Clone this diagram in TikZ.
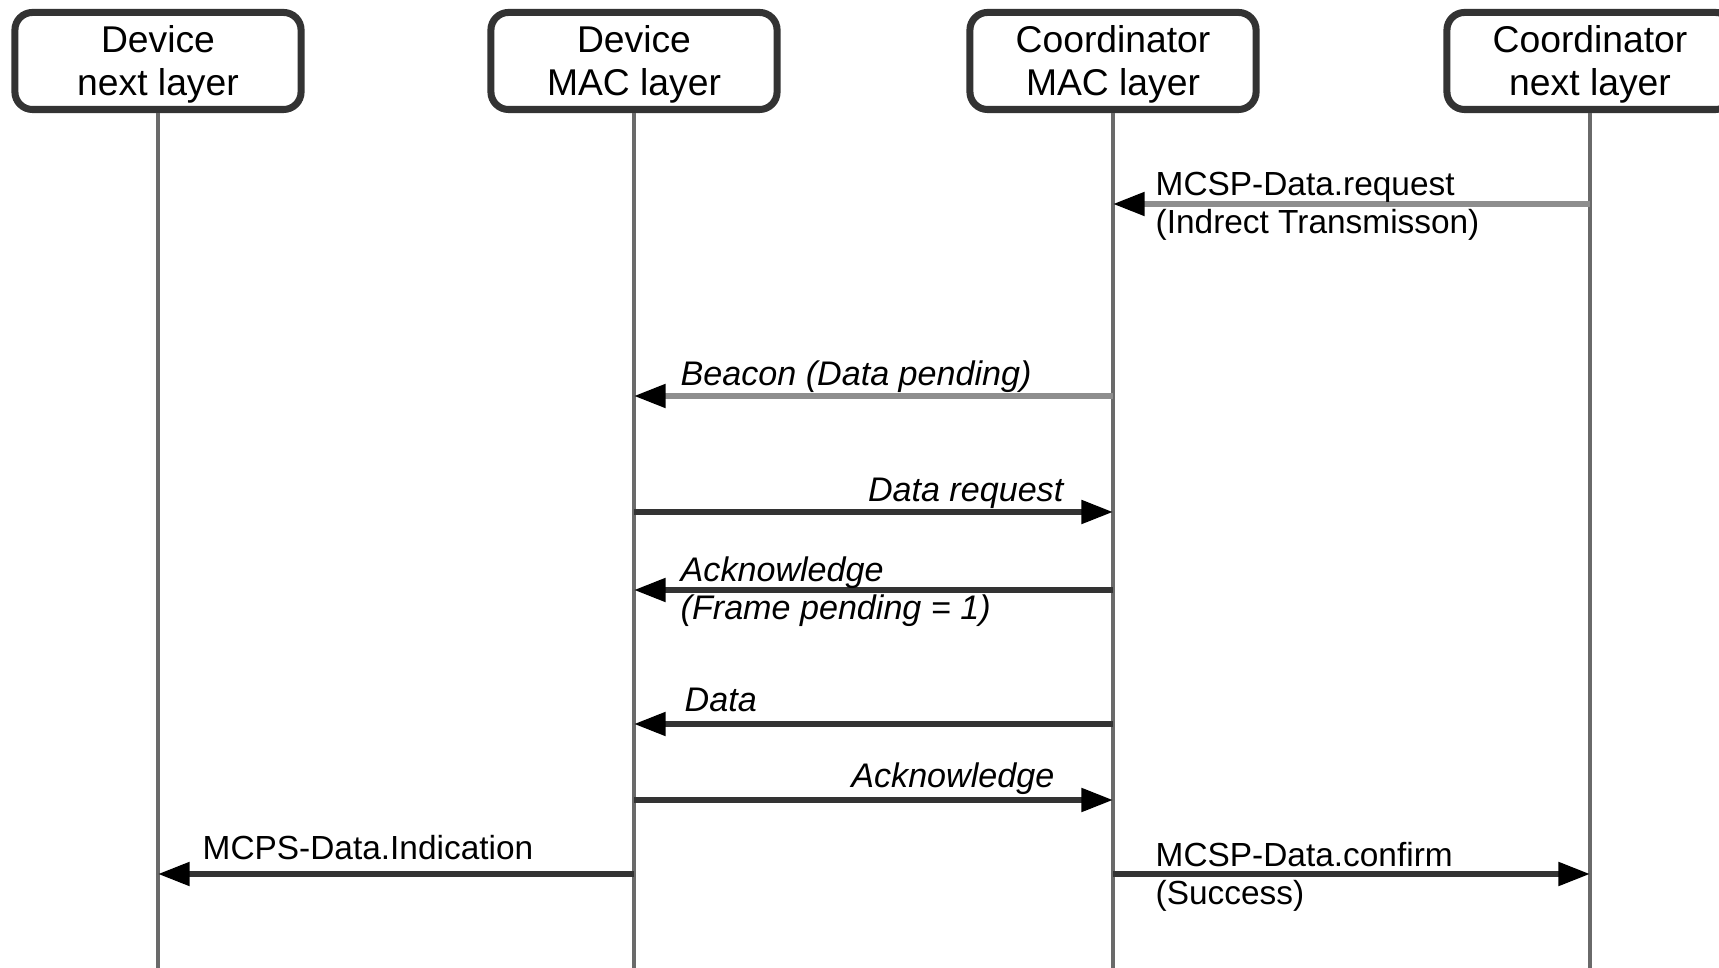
\documentclass[tikz,border=0pt]{standalone}
\usepackage{fontspec}
\setmainfont{Liberation Sans}
\usetikzlibrary{arrows.meta}
\definecolor{lineDark}{HTML}{333333}
\definecolor{lineGray}{HTML}{8E8E8E}
\definecolor{lifeGray}{HTML}{6A6A6A}

\begin{document}
\begin{tikzpicture}[x=0.01cm,y=-0.01cm,
  lanebox/.style={draw=lineDark, fill=white, line width=2pt, rounded corners=5pt,
    minimum width=2.86cm, minimum height=0.97cm, align=center, inner sep=0pt,
    font=\fontsize{10.6}{12.2}\selectfont},
  lifeline/.style={draw=lifeGray, line width=1.1pt},
  msg/.style={draw=lineDark, line width=1.6pt,
    -{Triangle[length=9pt,width=6.5pt,color=black]}},
  msggray/.style={msg, draw=lineGray},
  lbl/.style={inner sep=0pt, align=left, font=\fontsize{9.5}{10.8}\selectfont},
  ilbl/.style={lbl, font=\fontsize{9.7}{10.8}\selectfont\itshape}
]
\useasboundingbox (0,0) rectangle (1719,968);
\clip (0,0) rectangle (1719,968);

% lower ends of the lifelines
\coordinate (e1) at (158,968);
\coordinate (e2) at (634,968);
\coordinate (e3) at (1113,968);
\coordinate (e4) at (1590,968);

% header boxes (the strut nudges the two text lines slightly down)
\node[lanebox] (dn) at (158,61) {\rule{0pt}{9.4pt}Device\\next layer};
\node[lanebox] (dm) at (634,61) {\rule{0pt}{9.4pt}Device\\MAC layer};
\node[lanebox] (cm) at (1113,61) {\rule{0pt}{9.4pt}Coordinator\\MAC layer};
\node[lanebox] (cn) at (1590,61) {\rule{0pt}{9.4pt}Coordinator\\next layer};

\draw[lifeline] (dn.south) -- (e1);
\draw[lifeline] (dm.south) -- (e2);
\draw[lifeline] (cm.south) -- (e3);
\draw[lifeline] (cn.south) -- (e4);

% messages
\draw[msggray] (cn |- 0,204) -- (cm |- 0,204);
\node[lbl, anchor=west] (l1) at (1155,206) {MCSP-Data.request\\(Indrect Transmisson)};

\draw[msggray] (cm |- 0,396) -- (dm |- 0,396);
\node[ilbl, anchor=west] (l2) at (680,377) {Beacon (Data pending)};

\draw[msg] (dm |- 0,512) -- (cm |- 0,512);
\node[ilbl, anchor=east] (l3) at (1064,493) {Data request};

\draw[msg] (cm |- 0,590) -- (dm |- 0,590);
\node[ilbl, anchor=west] (l4) at (680,592) {Acknowledge\\(Frame pending = 1)};

\draw[msg] (cm |- 0,724) -- (dm |- 0,724);
\node[ilbl, anchor=west] (l5) at (684,700) {Data};

\draw[msg] (dm |- 0,800) -- (cm |- 0,800);
\node[ilbl, anchor=east] (l6) at (1055,779) {Acknowledge};

\draw[msg] (dm |- 0,874) -- (dn |- 0,874);
\node[lbl, anchor=west] (l7) at (202,848) {MCPS-Data.Indication};

\draw[msg] (cm |- 0,874) -- (cn |- 0,874);
\node[lbl, anchor=west] (l8) at (1155,877) {MCSP-Data.confirm\\(Success)};
\end{tikzpicture}
\end{document}
